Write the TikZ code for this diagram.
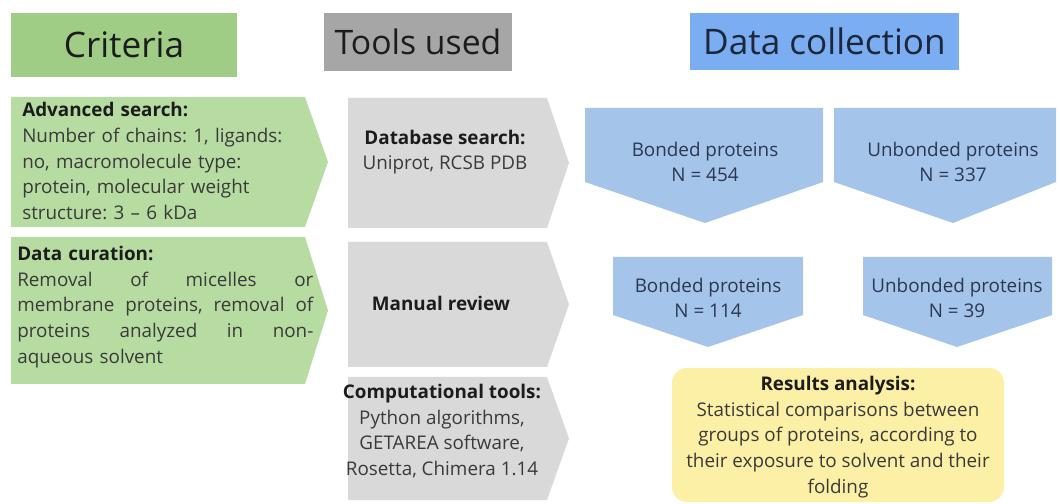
\documentclass[tikz,border=0pt]{standalone}
\usepackage{fontspec}
\setmainfont{Open Sans}
\usepackage{xcolor}
\usepackage{tikz}
\usetikzlibrary{positioning}

\definecolor{critgreen}{HTML}{9FCD86}
\definecolor{critlight}{HTML}{B7DCA2}
\definecolor{toolgray}{HTML}{A6A6A6}
\definecolor{toollight}{HTML}{D9D9D9}
\definecolor{datablue}{HTML}{7AADF2}
\definecolor{datalight}{HTML}{A5C4EA}
\definecolor{resyellow}{HTML}{FCEFA6}
\definecolor{bodytext}{HTML}{3A3A3A}
\definecolor{headtext}{HTML}{1C1C1C}
\definecolor{navytext}{HTML}{2A3852}

\tikzset{
  header/.style   = {inner sep=0pt, text=headtext,
                     font=\fontsize{25}{30}\selectfont},
  bodytxt/.style  = {inner sep=0pt, text=bodytext,
                     font=\fontsize{13.4}{18.2}\selectfont\frenchspacing},
  bluetxt/.style  = {bodytxt, align=center, text=navytext},
  graytxt/.style  = {bodytxt, align=center},
  resbox/.style   = {bodytxt, align=center, fill=resyellow,
                     rounded corners=0.38cm, minimum width=8.3cm,
                     minimum height=3.35cm},
}
\newcommand{\justline}[1]{\makebox[7.4cm][l]{#1}}

\begin{document}
\begin{tikzpicture}[x=0.025cm, y=-0.025cm]

    \useasboundingbox (0,0) rectangle (1060,504);

    % Column headers
    \node[header, fill=critgreen, minimum width=5.65cm, minimum height=1.6cm]
        (critHead) at (124,45) {Criteria};
    \node[header, fill=toolgray, minimum width=4.7cm, minimum height=1.45cm,
          font=\fontsize{24}{29}\selectfont]
        (toolHead) at (418,42) {Tools used};
    \node[header, fill=datablue, minimum width=6.72cm, minimum height=1.43cm,
          text=navytext!70!black]
        (dataHead) at (824.5,41.5) {Data collection};

    % Criteria chevrons
    \foreach \t/\b in {97/227, 237/384} {
        \fill[critlight] (11,\t) -- (305,\t) -- (328,{(\t+\b)/2})
            -- (305,\b) -- (11,\b) -- cycle;
    }

    % Tools chevrons
    \foreach \t/\b in {98/228, 242/367, 377/500} {
        \fill[toollight] (348,\t) -- (547,\t) -- (569,{(\t+\b)/2})
            -- (547,\b) -- (348,\b) -- cycle;
    }

    % Data collection pentagons (left/right/top/side/tip x/tip y)
    \foreach \l/\r/\t/\s/\m/\b in {585/823/108/182/705/223,
                                   834/1056/108/182/953/223,
                                   613/803/257/315/708/347,
                                   863/1052/257/315/957/347} {
        \fill[datalight] (\l,\t) -- (\r,\t) -- (\r,\s) -- (\m,\b)
            -- (\l,\s) -- cycle;
    }

    % Criteria texts
    \node[bodytxt, anchor=west, text width=7.3cm, align=left]
        (advSearch) at (22,161)
        {{\color{headtext}\bfseries Advanced search:}\\
         Number of chains: 1, ligands:\\
         no, macromolecule type:\\
         protein, molecular weight\\
         structure: 3 – 6 kDa};
    \node[bodytxt, anchor=west, text width=7.4cm, align=left]
        (dataCur) at (17,307)
        {{\color{headtext}\bfseries Data curation:}\\
         \justline{Removal\hfill of\hfill micelles\hfill or}\\
         \justline{membrane\hfill proteins,\hfill removal\hfill of}\\
         \justline{proteins\hfill analyzed\hfill in\hfill non-}\\
         aqueous solvent};

    % Tools texts
    \node[graytxt] (dbSearch) at (445,152)
        {{\color{headtext}\bfseries Database search:}\\Uniprot, RCSB PDB};
    \node[graytxt] (manReview) at (441,303)
        {{\color{headtext}\bfseries Manual review}};
    \node[graytxt] (compTools) at (442,431)
        {{\color{headtext}\bfseries Computational tools:}\\
         Python algorithms,\\GETAREA software,\\Rosetta, Chimera 1.14};

    % Data collection texts
    \node[bluetxt] (bondA)   at (705,162) {Bonded proteins\\N = 454};
    \node[bluetxt] (unbondA) at (953,162) {Unbonded proteins\\N = 337};
    \node[bluetxt] (bondB)   at (708,298) {Bonded proteins\\N = 114};
    \node[bluetxt] (unbondB) at (957,298) {Unbonded proteins\\N = 39};

    % Results box
    \node[resbox] (results) at (838,435) {};
    \node[bodytxt, align=center] (resultsTxt) at (838,437)
        {{\color{headtext}\bfseries Results analysis:}\\
         Statistical comparisons between\\
         groups of proteins, according to\\
         their exposure to solvent and their\\
         folding};

\end{tikzpicture}
\end{document}
